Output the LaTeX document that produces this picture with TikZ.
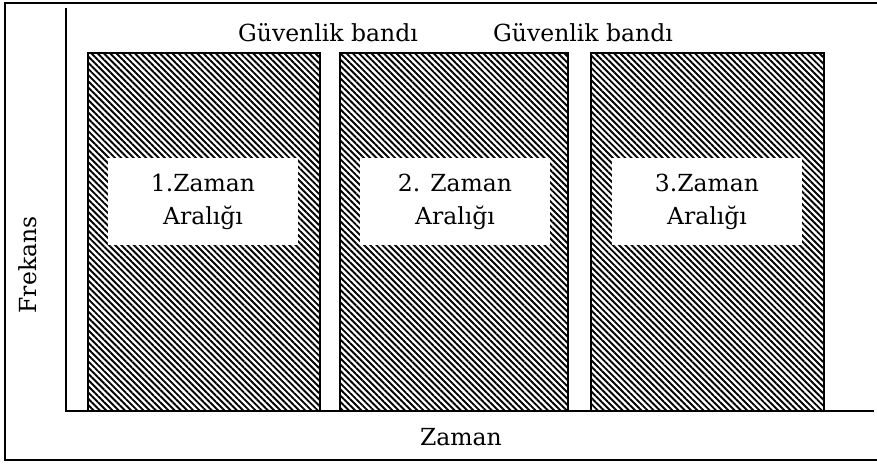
\documentclass[tikz,border=0pt]{standalone}
\usepackage{fontspec}
\setmainfont{DejaVu Serif}
\usetikzlibrary{patterns.meta}

\begin{document}
\begin{tikzpicture}[x=1pt, y=-1pt,
    every node/.style={font=\fontsize{23.5}{33}\selectfont},
    slot/.style={draw, line width=1.4pt, pattern={Lines[angle=-45, distance=4.4pt, line width=1.9pt]}},
    slotlabel/.style={fill=white, minimum width=190pt, minimum height=87pt, align=center, inner sep=0pt}]
    \useasboundingbox (0,0) rectangle (877,466);
    % frame, open on the right
    \draw[line width=1.2pt] (878,3) -- (5,3) -- (5,460) -- (878,460);
    % axes
    \draw[line width=1.5pt] (66,8) -- (66,411) -- (874,411);
    % the three time slots
    \path[slot] (88,53) rectangle (320,411);
    \path[slot] (340,53) rectangle (568,411);
    \path[slot] (591,53) rectangle (824,411);
    \node[slotlabel] (s1) at (203,201.5) {1.Zaman\\Aralığı};
    \node[slotlabel] (s2) at (455,201.5) {2. Zaman\\Aralığı};
    \node[slotlabel] (s3) at (707,201.5) {3.Zaman\\Aralığı};
    % guard bands between slots
    \node (g1) at (328,33) {Güvenlik bandı};
    \node (g2) at (583,33) {Güvenlik bandı};
    % axis names
    \node[rotate=90] (fy) at (28,265) {Frekans};
    \node (tx) at (461,437) {Zaman};
\end{tikzpicture}
\end{document}
